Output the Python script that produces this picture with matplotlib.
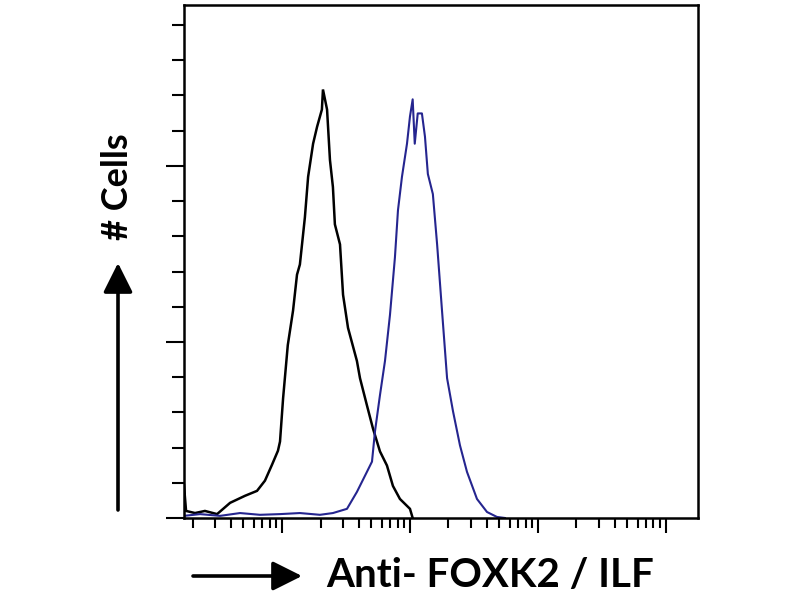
import matplotlib
matplotlib.use("Agg")
import matplotlib.pyplot as plt
from matplotlib.ticker import LogLocator, NullFormatter, MultipleLocator
import numpy as np

# Control (isotype) histogram - black
control_x = [0.171, 0.171, 0.178, 0.209, 0.250, 0.311, 0.393, 0.514, 0.638, 0.736, 0.835,
             0.930, 0.965, 1.02, 1.11, 1.22, 1.31, 1.38, 1.51, 1.60, 1.75, 1.88, 2.05,
             2.09, 2.25, 2.37, 2.50, 2.59, 2.84, 3.00, 3.28, 3.85, 4.07, 4.61, 5.14,
             5.83, 6.61, 7.36, 8.35, 10.0, 10.5]
control_y = [0, 9.7, 2.0, 1.4, 2.0, 1.1, 4.3, 6.3, 7.7, 10.6, 15.1,
             19.1, 21.7, 34.0, 49.1, 58.9, 69.1, 72.0, 85.4, 96.9, 106.3, 111.1, 116.0,
             121.7, 116.0, 101.7, 94.0, 83.4, 77.7, 63.4, 54.0, 44.6, 39.7, 32.0, 25.4,
             18.9, 14.9, 9.1, 5.4, 2.6, 0]

# Anti-FOXK2 stained histogram - blue
stained_x = [0.171, 0.229, 0.328, 0.470, 0.673, 0.965, 1.38, 1.98, 2.50, 3.22, 3.85,
             4.61, 5.05, 5.33, 5.83, 6.38, 6.98, 7.63, 8.06, 8.66, 9.48, 10.0, 10.5,
             10.9, 11.5, 12.4, 13.1, 13.8, 15.1, 16.3, 17.8, 19.5, 21.7, 24.6, 27.9,
             33.4, 40.0, 47.8, 55.2]
stained_y = [0.6, 1.1, 0.6, 1.4, 0.9, 1.1, 1.4, 0.9, 1.4, 2.6, 7.4,
             13.1, 16.0, 24.6, 34.9, 44.6, 57.7, 74.0, 87.4, 96.9, 106.3, 114.0, 118.9,
             106.3, 114.9, 114.9, 108.3, 97.7, 92.0, 77.7, 58.9, 39.7, 30.3, 20.6, 13.1,
             5.4, 1.7, 0.3, 0]

x_label = "Anti- FOXK2 / ILF"
y_label = "# Cells"

fig = plt.figure(figsize=(8, 6), dpi=100)
ax = fig.add_axes([0.2294, 0.1367, 0.873 - 0.2294, 0.9917 - 0.1367])

ax.plot(control_x, control_y, color="black", lw=1.8, solid_joinstyle="miter")
ax.plot(stained_x, stained_y, color="#25258f", lw=1.5)

ax.set_xscale("log")
ax.set_xlim(10 ** -0.7695, 10 ** 3.254)
ax.set_ylim(0, 145.7)

ax.xaxis.set_major_locator(LogLocator(base=10, numticks=10))
ax.xaxis.set_minor_locator(LogLocator(base=10, subs=np.arange(2, 10), numticks=20))
ax.xaxis.set_major_formatter(NullFormatter())
ax.xaxis.set_minor_formatter(NullFormatter())
ax.yaxis.set_major_locator(MultipleLocator(50))
ax.yaxis.set_minor_locator(MultipleLocator(10))
ax.yaxis.set_major_formatter(NullFormatter())

ax.tick_params(axis="x", which="major", direction="out", length=11, width=1.5, color="black")
ax.tick_params(axis="x", which="minor", direction="out", length=7, width=1.5, color="black")
ax.tick_params(axis="y", which="major", direction="out", length=13, width=1.5, color="black")
ax.tick_params(axis="y", which="minor", direction="out", length=8.5, width=1.5, color="black")
for s in ax.spines.values():
    s.set_linewidth(1.8)
    s.set_color("black")

fig.text(118 / 800, 1 - 187 / 600, y_label, rotation=90, ha="center", va="center",
         fontsize=26, fontweight="bold", family=["Lato", "DejaVu Sans"])
fig.text(490 / 800, 1 - 587 / 600, x_label, ha="center", va="baseline",
         fontsize=29, fontweight="bold", family=["Lato", "DejaVu Sans"])

arrow = dict(arrowstyle="-|>,head_length=0.9,head_width=0.45", lw=2.6, color="black",
             mutation_scale=20, shrinkA=0, shrinkB=0)
fig.add_artist(matplotlib.patches.FancyArrowPatch((118 / 800, 1 - 510 / 600), (118 / 800, 1 - 263 / 600),
               transform=fig.transFigure, **arrow))
fig.add_artist(matplotlib.patches.FancyArrowPatch((193 / 800, 1 - 576 / 600), (302 / 800, 1 - 576 / 600),
               transform=fig.transFigure, **arrow))

fig.savefig("out.png", dpi=100)
